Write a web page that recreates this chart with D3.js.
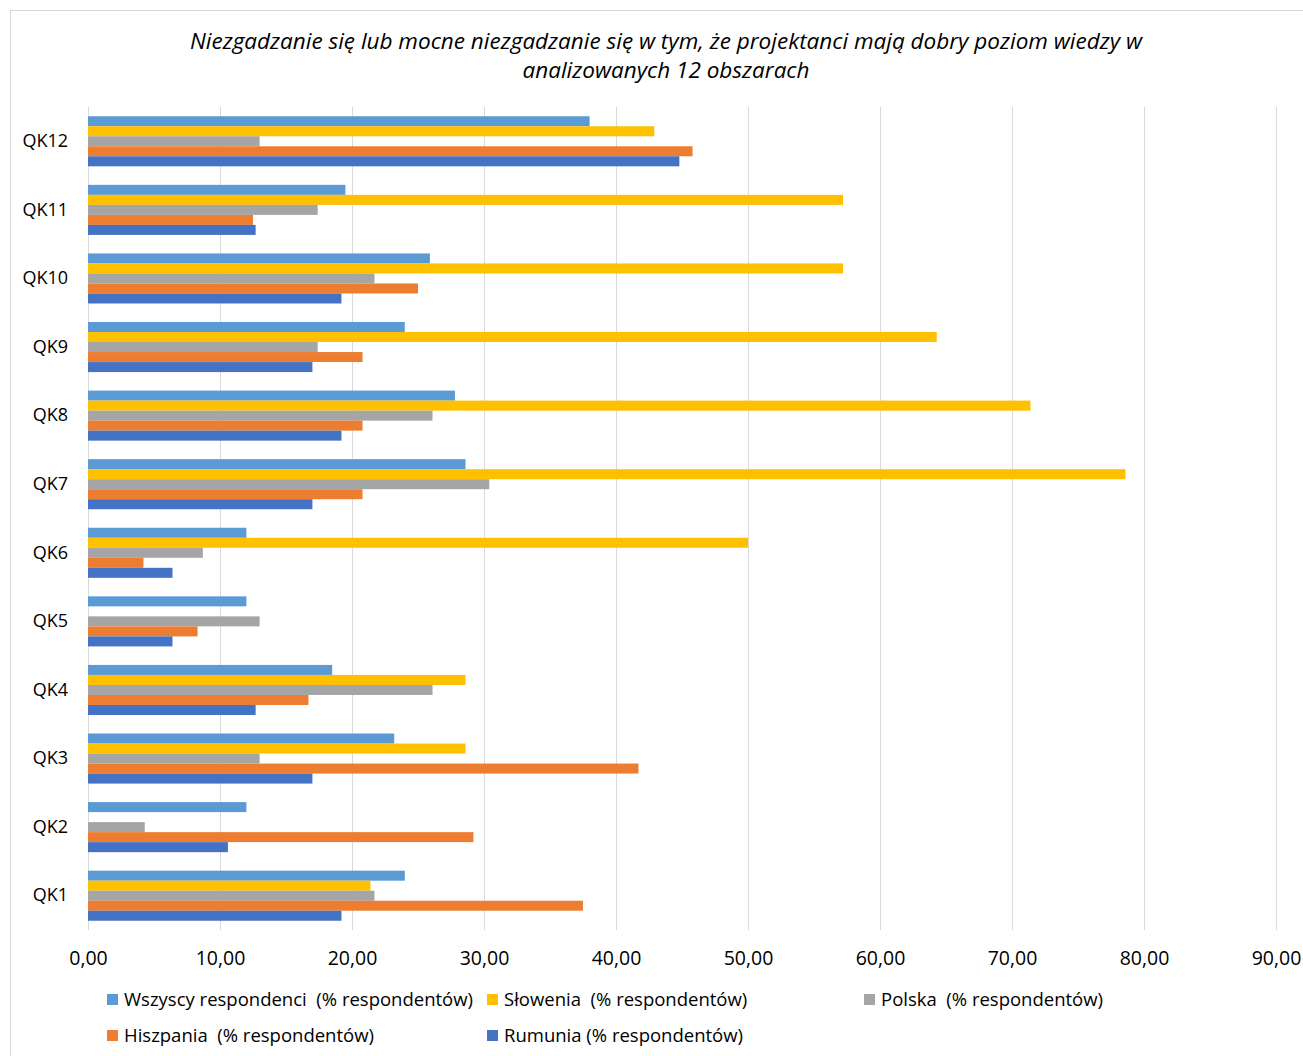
<!DOCTYPE html>
<html><head><meta charset="utf-8">
<script src="https://cdn.jsdelivr.net/npm/d3@7"></script>
<style>body{margin:0;background:#fff}svg{display:block}text{font-family:"Open Sans","Noto Sans",sans-serif;fill:#000}</style>
</head><body>
<script>
const categories = ["QK12","QK11","QK10","QK9","QK8","QK7","QK6","QK5","QK4","QK3","QK2","QK1"];
const seriesNames = ["Wszyscy respondenci  (% respondentów)","Słowenia  (% respondentów)","Polska  (% respondentów)","Hiszpania  (% respondentów)","Rumunia (% respondentów)"];
const seriesColors = ["#5B9BD5","#FFC000","#A5A5A5","#ED7D31","#4472C4"];
const wszyscy  = [38.0,19.5,25.9,24.0,27.8,28.6,12.0,12.0,18.5,23.2,12.0,24.0];
const slowenia = [42.9,57.2,57.2,64.3,71.4,78.6,50.0,0,28.6,28.6,0,21.4];
const polska   = [13.0,17.4,21.7,17.4,26.1,30.4,8.7,13.0,26.1,13.0,4.3,21.7];
const hiszpania= [45.8,12.5,25.0,20.8,20.8,20.8,4.2,8.3,16.7,41.7,29.2,37.5];
const rumunia  = [44.8,12.7,19.2,17.0,19.2,17.0,6.4,6.4,12.7,17.0,10.6,19.2];
const tickValues = [0,10,20,30,40,50,60,70,80,90];
const title = ["Niezgadzanie się lub mocne niezgadzanie się w tym, że projektanci mają dobry poziom wiedzy w","analizowanych 12 obszarach"];

const series = [wszyscy, slowenia, polska, hiszpania, rumunia];
const W = 1303, H = 1056;
const svg = d3.select("body").append("svg").attr("width", W).attr("height", H);
svg.append("rect").attr("x",10.5).attr("y",10.5).attr("width",W-10).attr("height",H-10).attr("fill","#fff").attr("stroke","#d9d9d9");

const x = d3.scaleLinear().domain([0,90]).range([88,1276]);
const y = d3.scaleBand().domain(categories).range([107,930]).paddingInner(0.27).paddingOuter(0.135);
const yi = d3.scaleBand().domain(d3.range(5)).range([0,y.bandwidth()]);

// title
svg.append("g").selectAll("text").data(title).join("text")
  .attr("x",666).attr("y",(d,i)=>49+i*29).attr("text-anchor","middle")
  .style("font-style","italic").style("font-size","22.5px").text(d=>d);

// gridlines
svg.append("g").selectAll("line").data(tickValues).join("line")
  .attr("x1",d=>x(d)+0.5).attr("x2",d=>x(d)+0.5).attr("y1",107).attr("y2",930)
  .attr("stroke","#d9d9d9").attr("stroke-width",1);

// bars
const groups = svg.append("g").selectAll("g").data(categories).join("g")
  .attr("transform",c=>`translate(0,${y(c)})`);
groups.each(function(c,ci){
  d3.select(this).selectAll("rect").data(series.map((s,si)=>({si,v:s[ci]})).filter(d=>d.v>0)).join("rect")
    .attr("x",x(0)).attr("y",d=>yi(d.si)).attr("width",d=>x(d.v)-x(0)).attr("height",yi.bandwidth())
    .attr("fill",d=>seriesColors[d.si]);
});

// x axis
const xAxis = d3.axisBottom(x).tickValues(tickValues).tickSize(0).tickPadding(0)
  .tickFormat(d=>d3.format(".2f")(d).replace(".",","));
const gx = svg.append("g").attr("transform","translate(0,930)").call(xAxis);
gx.select(".domain").remove();
gx.selectAll("text").attr("dy",null).attr("y",35).style("font-size","19.5px").style("font-family",'"Open Sans","Noto Sans",sans-serif');

// y axis
const yAxis = d3.axisLeft(y).tickSize(0).tickPadding(20);
const gy = svg.append("g").attr("transform","translate(88,0)").call(yAxis);
gy.select(".domain").remove();
gy.selectAll("text").style("font-size","18px").style("font-family",'"Open Sans","Noto Sans",sans-serif');

// legend
const legPos = [[107,1000],[487,1000],[864,1000],[107,1036],[487,1036]];
const leg = svg.append("g").selectAll("g").data(seriesNames).join("g")
  .attr("transform",(d,i)=>`translate(${legPos[i][0]},${legPos[i][1]})`);
leg.append("rect").attr("x",0).attr("y",-6).attr("width",11).attr("height",11).attr("fill",(d,i)=>seriesColors[i]);
leg.append("text").attr("x",17).attr("y",0).attr("dy","0.35em").style("font-size","18.5px").style("white-space","pre").text(d=>d);
</script>
</body></html>
